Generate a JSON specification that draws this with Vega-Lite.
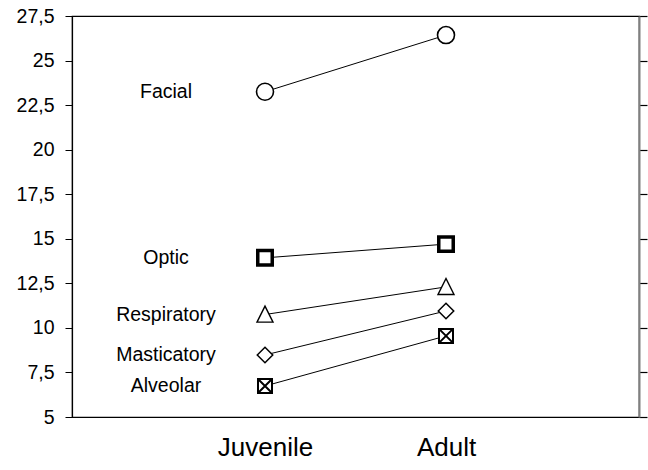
{
  "$schema": "https://vega.github.io/schema/vega-lite/v6.json",
  "width": 567,
  "height": 401,
  "autosize": {"type": "none"},
  "padding": {"left": 72, "top": 16, "right": 9, "bottom": 53},
  "background": "white",
  "config": {
    "view": {"stroke": "#000000", "strokeWidth": 1.2},
    "font": "Liberation Sans",
    "axis": {"labelFont": "Liberation Sans", "labelColor": "#000000", "grid": false}
  },
  "data": {
    "values": [
      {"group": "Facial", "stage": "Juvenile", "value": 23.25},
      {"group": "Facial", "stage": "Adult", "value": 26.43},
      {"group": "Optic", "stage": "Juvenile", "value": 13.93},
      {"group": "Optic", "stage": "Adult", "value": 14.7},
      {"group": "Respiratory", "stage": "Juvenile", "value": 10.75},
      {"group": "Respiratory", "stage": "Adult", "value": 12.3},
      {"group": "Masticatory", "stage": "Juvenile", "value": 8.48},
      {"group": "Masticatory", "stage": "Adult", "value": 10.95},
      {"group": "Alveolar", "stage": "Juvenile", "value": 6.74},
      {"group": "Alveolar", "stage": "Adult", "value": 9.55}
    ]
  },
  "encoding": {
    "x": {
      "field": "stage",
      "type": "nominal",
      "sort": ["Juvenile", "Adult"],
      "scale": {"type": "point", "domain": ["Juvenile", "Adult"], "range": [193, 374], "padding": 0},
      "axis": {
        "title": null, "ticks": false, "labelFontSize": 26, "labelPadding": 17, "labelAngle": 0,
        "domainColor": "#000000", "domainWidth": 1.2,
        "encode": {"labels": {"update": {"dx": {"signal": "datum.value === 'Adult' ? -11 : 0"}}}}
      }
    },
    "y": {
      "field": "value",
      "type": "quantitative",
      "scale": {"domain": [5, 27.5], "nice": false, "zero": false}
    }
  },
  "layer": [
    {
      "mark": {"type": "line", "color": "#000000", "strokeWidth": 1},
      "encoding": {
        "detail": {"field": "group"},
        "y": {
          "field": "value", "type": "quantitative",
          "axis": {
            "title": null, "orient": "left",
            "values": [5, 7.5, 10, 12.5, 15, 17.5, 20, 22.5, 25, 27.5],
            "labelExpr": "replace(toString(datum.value), '.', ',')",
            "labelFontSize": 19.5, "labelPadding": 11, "tickSize": 7,
            "tickColor": "#000000", "domainColor": "#000000", "domainWidth": 1.2
          }
        }
      }
    },
    {
      "encoding": {
        "y": {
          "field": "value", "type": "quantitative",
          "axis": {
            "title": null, "orient": "right", "labels": false,
            "values": [5, 7.5, 10, 12.5, 15, 17.5, 20, 22.5, 25, 27.5],
            "ticks": true, "tickColor": "#000000", "tickSize": 8, "tickWidth": 1.2,
            "domainColor": "#808080", "domainWidth": 2
          }
        }
      },
      "layer": [
        {
          "mark": {"type": "point", "filled": false, "fill": "white", "fillOpacity": 1, "color": "#000000", "opacity": 1},
          "encoding": {
            "shape": {
              "field": "group", "type": "nominal", "legend": null,
              "scale": {
                "domain": ["Facial", "Optic", "Respiratory", "Masticatory", "Alveolar"],
                "range": ["circle", "square", "M0,-1.05L-1,0.95L1,0.95Z", "diamond", "M-1,-1L1,-1L1,1L-1,1Z M-1,-1L1,1 M1,-1L-1,1"]
              }
            },
            "size": {
              "field": "group", "type": "nominal", "legend": null,
              "scale": {
                "type": "ordinal",
                "domain": ["Facial", "Optic", "Respiratory", "Masticatory", "Alveolar"],
                "range": [289, 210, 256, 240, 196]
              }
            },
            "strokeWidth": {
              "field": "group", "type": "nominal", "legend": null,
              "scale": {
                "type": "ordinal",
                "domain": ["Facial", "Optic", "Respiratory", "Masticatory", "Alveolar"],
                "range": [1.6, 3.5, 1.4, 1.5, 2]
              }
            }
          }
        },
        {
          "transform": [{"filter": "datum.stage === 'Juvenile'"}],
          "mark": {"type": "text", "dx": -99, "align": "center", "baseline": "middle", "fontSize": 19.5, "font": "Liberation Sans", "color": "#000000"},
          "encoding": {
            "text": {"field": "group"}
          }
        }
      ]
    }
  ],
  "resolve": {"axis": {"y": "independent"}}
}
